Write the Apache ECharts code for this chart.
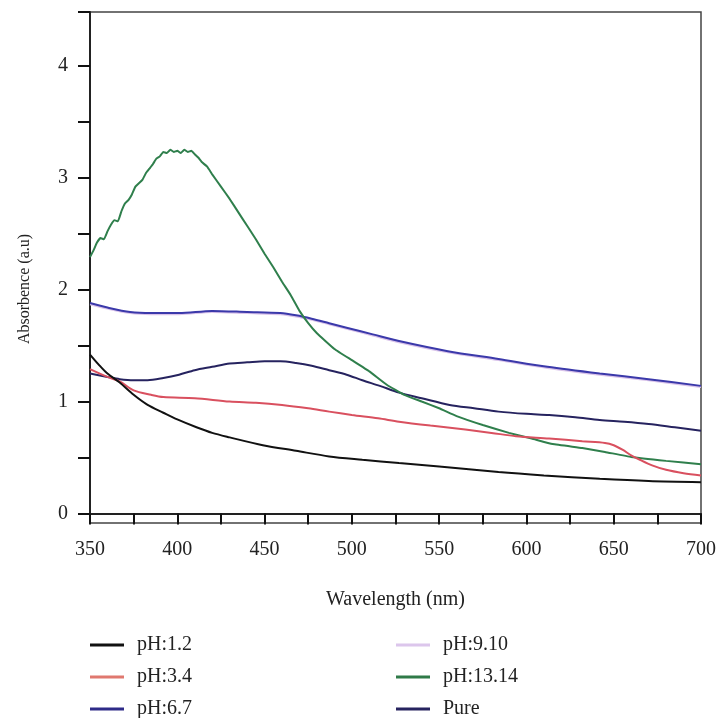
<!DOCTYPE html>
<html>
<head>
<meta charset="utf-8">
<script src="https://cdn.jsdelivr.net/npm/echarts@6/dist/echarts.min.js"></script>
<style>html,body{margin:0;padding:0;background:#fff}#c{width:719px;height:718px}</style>
</head>
<body>
<div id="c"></div>
<script>
// ---- data ----
var seriesNames = ['pH:1.2', 'pH:3.4', 'pH:6.7', 'pH:9.10', 'pH:13.14', 'Pure'];

var wl_12  = [350,355,360,367,375,383,392,400,411,420,430,449,468,487,506,527,550,584,610,642,670,700];
var abs_12 = [1.42,1.33,1.25,1.17,1.06,0.97,0.90,0.84,0.77,0.72,0.68,0.61,0.56,0.51,0.48,0.45,0.42,0.37,0.34,0.31,0.29,0.28];

var wl_34  = [350,360,367,375,385,392,410,430,445,460,475,487,500,515,527,545,565,580,594,613,632,645,650,655,660,665,672,680,690,700];
var abs_34 = [1.29,1.22,1.18,1.10,1.06,1.04,1.03,1.00,0.99,0.97,0.94,0.91,0.88,0.85,0.82,0.785,0.75,0.72,0.69,0.67,0.645,0.63,0.61,0.57,0.52,0.48,0.43,0.39,0.36,0.34];

var wl_67  = [350,360,373,385,401,420,440,459,468,477,487,497,512,527,555,584,612,642,670,700];
var abs_67 = [1.88,1.84,1.80,1.79,1.79,1.81,1.80,1.79,1.77,1.74,1.70,1.66,1.60,1.54,1.45,1.38,1.31,1.25,1.20,1.14];

var wl_910  = [350,360,373,385,401,420,440,459,468,477,487,497,512,527,555,584,612,642,670,700];
var abs_910 = [1.87,1.83,1.79,1.78,1.78,1.80,1.79,1.78,1.76,1.73,1.69,1.65,1.59,1.53,1.44,1.37,1.30,1.24,1.19,1.13];

var wl_1314  = [350,352,354,356,358,360,362,364,366,368,370,372,374,376,378,380,382,384,386,388,390,392,394,396,398,400,402,404,406,408,410,412,414,417,420,425,430,435,440,445,450,455,460,465,470,475,480,490,500,510,520,530,540,550,560,575,590,603,615,632,645,660,680,700];
var abs_1314 = [2.29,2.35,2.42,2.46,2.45,2.52,2.58,2.62,2.61,2.70,2.77,2.80,2.85,2.92,2.95,2.98,3.04,3.08,3.12,3.17,3.19,3.23,3.22,3.25,3.23,3.24,3.22,3.25,3.23,3.24,3.21,3.18,3.14,3.10,3.03,2.92,2.81,2.69,2.57,2.45,2.32,2.20,2.07,1.95,1.81,1.70,1.61,1.47,1.37,1.27,1.15,1.06,1.00,0.94,0.87,0.79,0.72,0.67,0.62,0.585,0.55,0.505,0.47,0.44];

var wl_pure  = [350,360,367,375,383,392,401,410,420,430,440,450,459,468,477,487,497,506,516,527,540,556,570,584,600,613,628,642,656,670,685,700];
var abs_pure = [1.25,1.22,1.20,1.19,1.19,1.21,1.24,1.28,1.31,1.34,1.35,1.36,1.36,1.345,1.32,1.28,1.24,1.19,1.14,1.08,1.03,0.97,0.94,0.91,0.89,0.88,0.86,0.835,0.82,0.80,0.77,0.74];

var xTicks  = [350,375,400,425,450,475,500,525,550,575,600,625,650,675,700];
var xLabels = [350,400,450,500,550,600,650,700];
var yTicks  = [0,0.5,1,1.5,2,2.5,3,3.5,4,4.48];
var yLabels = [0,1,2,3,4];

// ---- chart ----
function zip(a, b) { return a.map(function (v, i) { return [v, b[i]]; }); }
var FONT = 'Liberation Serif';
var colors = {
  'pH:1.2': '#111111',
  'pH:3.4': '#d9505f',
  'pH:6.7': '#3b39aa',
  'pH:9.10': '#d9c3ea',
  'pH:13.14': '#2f7f4c',
  'Pure': '#26235f'
};
var legendColors = {
  'pH:1.2': '#111111',
  'pH:3.4': '#e0786f',
  'pH:6.7': '#2e2b88',
  'pH:9.10': '#dcc6ec',
  'pH:13.14': '#2f7a48',
  'Pure': '#26235f'
};
var dataMap = {
  'pH:1.2': zip(wl_12, abs_12),
  'pH:3.4': zip(wl_34, abs_34),
  'pH:6.7': zip(wl_67, abs_67),
  'pH:9.10': zip(wl_910, abs_910),
  'pH:13.14': zip(wl_1314, abs_1314),
  'Pure': zip(wl_pure, abs_pure)
};
var drawOrder = ['pH:9.10', 'pH:6.7', 'Pure', 'pH:13.14', 'pH:3.4', 'pH:1.2'];
var series = drawOrder.map(function (n) {
  return {
    name: n, type: 'line', data: dataMap[n], showSymbol: false, symbol: 'none',
    smooth: n === 'pH:13.14' ? 0.1 : 0.3,
    lineStyle: { color: colors[n], width: 2 },
    itemStyle: { color: colors[n] },
    animation: false
  };
});

// legend: two columns of three rows, one legend component per item
var legendCols = [90, 90, 90, 396, 396, 396];
var legendRows = [635, 667, 699, 635, 667, 699];
var legends = seriesNames.map(function (n, i) {
  return {
    orient: 'vertical', left: legendCols[i], top: legendRows[i], padding: 0,
    itemWidth: 34, itemHeight: 3, icon: 'rect', selectedMode: false,
    data: [{ name: n, itemStyle: { color: legendColors[n] } }],
    textStyle: { fontFamily: FONT, fontSize: 20, color: '#222', lineHeight: 20, padding: [0, 0, 0, 8] }
  };
});

var chart = echarts.init(document.getElementById('c'), null, { renderer: 'canvas' });
chart.setOption({
  backgroundColor: '#fff',
  animation: false,
  grid: { left: 90, right: 16, top: 12, bottom: 195, show: true, borderColor: '#444', borderWidth: 1.5, backgroundColor: 'transparent' },
  legend: legends,
  xAxis: {
    type: 'value', min: 350, max: 700,
    name: 'Wavelength (nm)', nameLocation: 'middle', nameGap: 67,
    nameTextStyle: { fontFamily: FONT, fontSize: 20, color: '#222' },
    axisLine: { show: true, lineStyle: { color: '#222', width: 2 } },
    axisTick: { show: true, inside: false, length: 11, lineStyle: { color: '#111', width: 2 }, customValues: xTicks },
    axisLabel: { margin: 17, fontFamily: FONT, fontSize: 20, color: '#222', customValues: xLabels },
    splitLine: { show: false }
  },
  yAxis: {
    type: 'value', min: -0.085, max: 4.48,
    axisLine: { show: true, lineStyle: { color: '#222', width: 2 } },
    axisTick: { show: true, inside: false, length: 12, lineStyle: { color: '#111', width: 2 }, customValues: yTicks },
    axisLabel: { margin: 22, fontFamily: FONT, fontSize: 20, color: '#222', customValues: yLabels },
    splitLine: { show: false }
  },
  graphic: [{
    type: 'text', x: 25, y: 289, rotation: Math.PI / 2,
    style: { text: 'Absorbence (a.u)', font: '16px "Liberation Serif"', fill: '#222', textAlign: 'center', textVerticalAlign: 'middle' }
  }],
  series: series
});
</script>
</body>
</html>
